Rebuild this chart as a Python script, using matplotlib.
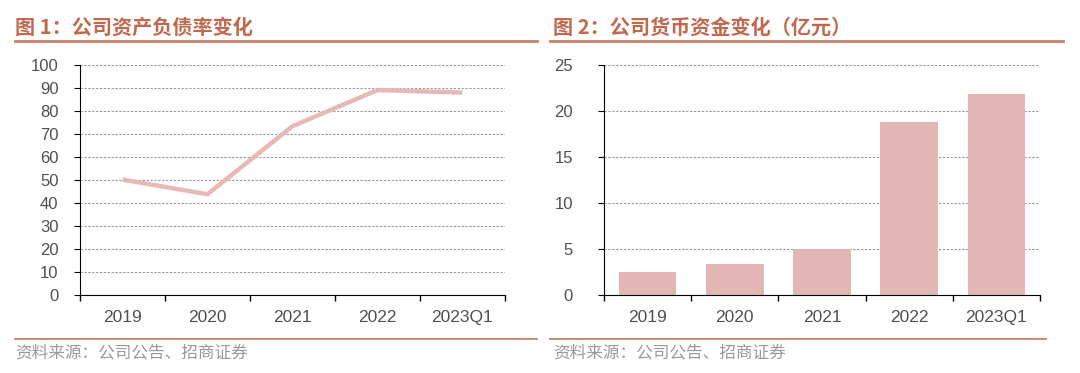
import matplotlib
matplotlib.use('Agg')
import matplotlib.pyplot as plt
import numpy as np
from matplotlib.lines import Line2D

plt.rcParams['font.family'] = ['Liberation Sans', 'Noto Sans CJK SC', 'DejaVu Sans']

categories = ['2019', '2020', '2021', '2022', '2023Q1']
debt_ratio = [50.2, 43.8, 73.4, 89.1, 88.0]
cash = [2.45, 3.35, 5.0, 18.75, 21.9]

title1 = '图 1：公司资产负债率变化'
title2 = '图 2：公司货币资金变化（亿元）'
source = '资料来源：公司公告、招商证券'

line_color = '#E8B8B8'
bar_color = '#E3B6B6'
title_color = '#C0694E'
rule_color = '#C58068'
text_color = '#505050'

fig = plt.figure(figsize=(10.8, 3.73), dpi=100)
ax1 = fig.add_axes([80 / 1080, 78 / 373, 425 / 1080, 230 / 373])
ax2 = fig.add_axes([604 / 1080, 78 / 373, 436 / 1080, 230 / 373])

x = np.arange(len(categories))


def style(ax, ymax, step, ypad):
    ax.set_xlim(-0.5, len(categories) - 0.5)
    ax.set_ylim(0, ymax)
    ax.set_yticks(np.arange(0, ymax + step / 2, step))
    ax.set_xticks(x)
    ax.set_xticklabels(categories)
    ax.set_xticks(np.arange(-0.5, len(categories), 1.0), minor=True)
    ax.tick_params(axis='x', which='major', length=0, pad=11, labelsize=12.5, labelcolor=text_color)
    ax.tick_params(axis='x', which='minor', length=4.5, width=1, direction='out', color='#000000')
    ax.tick_params(axis='y', length=4.5, width=0.8, labelsize=12, labelcolor=text_color, pad=ypad)
    ax.grid(axis='y', color='#999999', linestyle=(0, (2, 1.5)), linewidth=0.8)
    ax.set_axisbelow(True)
    for s in ['top', 'right']:
        ax.spines[s].set_visible(False)
    ax.spines['left'].set_color('#000000')
    ax.spines['bottom'].set_color('#000000')


style(ax1, 100, 10, 11)
ax1.plot(x, debt_ratio, color=line_color, linewidth=3.2, solid_capstyle='butt')

style(ax2, 25, 5, 18)
ax2.bar(x, cash, width=0.66, color=bar_color)

# titles and rules
fig.text(15 / 1080, 1 - 27 / 373, title1, fontsize=14.5, fontweight='bold',
         color=title_color, va='center', ha='left', family=['Noto Sans CJK SC'])
fig.text(553 / 1080, 1 - 27 / 373, title2, fontsize=14.5, fontweight='bold',
         color=title_color, va='center', ha='left', family=['Noto Sans CJK SC'])

fig.add_artist(Line2D([15 / 1080, 537 / 1080], [1 - 41 / 373] * 2, color=rule_color, linewidth=2))
fig.add_artist(Line2D([550 / 1080, 1063 / 1080], [1 - 41 / 373] * 2, color=rule_color, linewidth=2))
fig.add_artist(Line2D([15 / 1080, 537 / 1080], [1 - 339 / 373] * 2, color=rule_color, linewidth=1.3))
fig.add_artist(Line2D([550 / 1080, 1046 / 1080], [1 - 339 / 373] * 2, color=rule_color, linewidth=1.3))

fig.text(15 / 1080, 1 - 353 / 373, source, fontsize=12, color='#999999',
         va='center', ha='left', family=['Noto Sans CJK SC'])
fig.text(553 / 1080, 1 - 353 / 373, source, fontsize=12, color='#999999',
         va='center', ha='left', family=['Noto Sans CJK SC'])

fig.savefig('out.png', dpi=100, facecolor='white')
